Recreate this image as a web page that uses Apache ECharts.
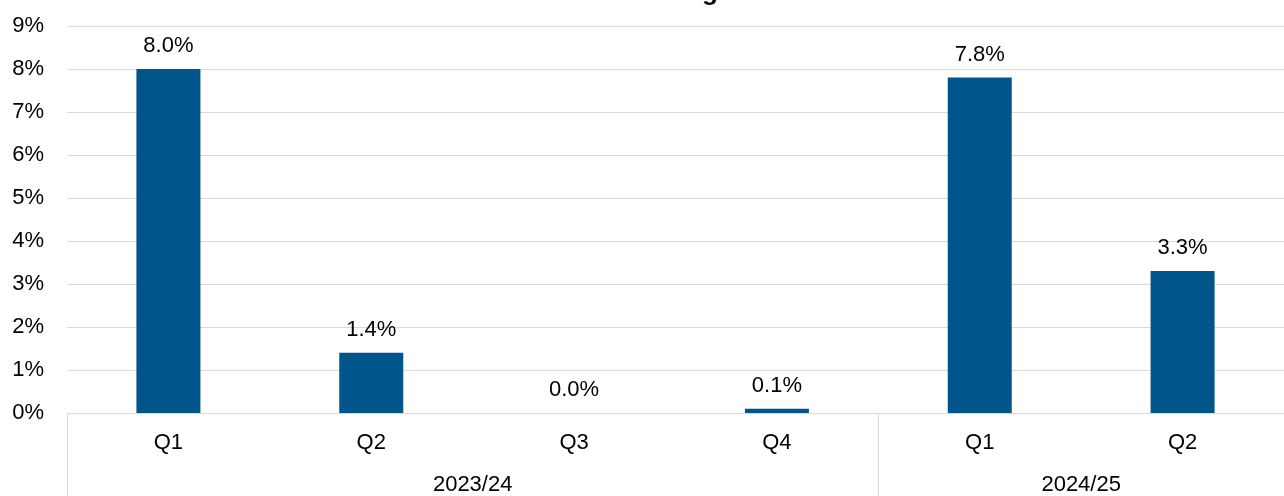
<!DOCTYPE html>
<html>
<head>
<meta charset="utf-8">
<script src="https://cdn.jsdelivr.net/npm/echarts@6/dist/echarts.min.js"></script>
<style>
  html, body { margin: 0; padding: 0; background: #fff; }
  #chart { width: 1284px; height: 496px; }
</style>
</head>
<body>
<div id="chart"></div>
<script>
// Quarterly share, grouped by financial year
const titleText = '% of Trusts Achieving Standard';
const quarters = ['Q1', 'Q2', 'Q3', 'Q4', 'Q1', 'Q2'];
const values = [8.0, 1.4, 0.0, 0.1, 7.8, 3.3];
const years = ['2023/24', '2024/25'];
const yearBounds = [0, 4, 6];   // group edges in category units
const yearCentres = [2, 5];     // label positions in category units
const yTicks = [0, 1, 2, 3, 4, 5, 6, 7, 8, 9];

const FONT = '"Liberation Sans", Arial, sans-serif';
const BAR = '#00558A';
const GRID = '#D9D9D9';

const chart = echarts.init(document.getElementById('chart'));
chart.setOption({
  animation: false,
  textStyle: { fontFamily: FONT },
  title: {
    text: titleText,
    left: 'center',
    top: -25,
    textStyle: { fontFamily: FONT, fontSize: 26, fontWeight: 'bold', color: '#000' }
  },
  grid: { left: 67, right: -5, top: 26, bottom: 83 },
  xAxis: [
    {
      type: 'category',
      data: quarters,
      axisLine: { show: true, lineStyle: { color: GRID, width: 1 } },
      axisTick: { show: false },
      axisLabel: { color: '#000', fontSize: 22, margin: 19, fontFamily: FONT }
    },
    {
      type: 'value',
      position: 'bottom',
      min: 0,
      max: 6,
      splitLine: { show: false },
      axisLine: { show: false },
      axisTick: {
        show: true,
        customValues: yearBounds,
        length: 83,
        lineStyle: { color: GRID, width: 1 }
      },
      axisLabel: {
        customValues: yearCentres,
        color: '#000',
        fontSize: 22,
        margin: 61,
        fontFamily: FONT,
        formatter: v => years[yearCentres.indexOf(v)]
      }
    }
  ],
  yAxis: {
    type: 'value',
    min: yTicks[0],
    max: yTicks[yTicks.length - 1],
    interval: 1,
    axisLine: { show: false },
    axisTick: { show: false },
    splitLine: { lineStyle: { color: GRID, width: 1 } },
    axisLabel: { color: '#000', fontSize: 22, margin: 23, fontFamily: FONT, formatter: v => v + '%' }
  },
  series: [{
    type: 'bar',
    data: values,
    xAxisIndex: 0,
    barWidth: 64,
    itemStyle: { color: BAR },
    label: {
      show: true,
      position: 'top',
      distance: 12,
      color: '#000',
      fontSize: 22,
      fontFamily: FONT,
      formatter: p => p.value.toFixed(1) + '%'
    }
  }]
});
</script>
</body>
</html>
